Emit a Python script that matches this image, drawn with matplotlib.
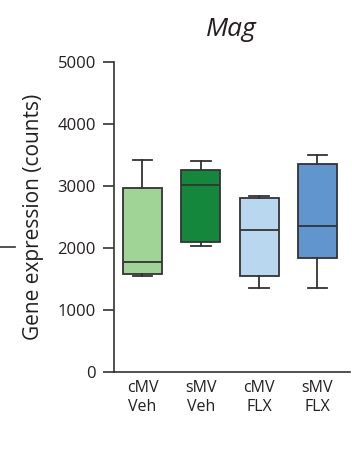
import matplotlib.pyplot as plt
from matplotlib.lines import Line2D

plt.rcParams['font.family'] = ['Open Sans', 'DejaVu Sans']

# groups and box statistics
groepen = ['cMV\nVeh', 'sMV\nVeh', 'cMV\nFLX', 'sMV\nFLX']
whis_laag = [1550, 2035, 1365, 1350]
q1 = [1590, 2100, 1550, 1835]
mediaan = [1780, 3010, 2300, 2355]
q3 = [2970, 3265, 2810, 3355]
whis_hoog = [3420, 3410, 2845, 3495]
kleuren = ['#a0d396', '#15873d', '#b9d7ee', '#6195ce']

rand = '#333333'
tekst = '#231f20'

fig = plt.figure(figsize=(3.52, 4.5), dpi=100)
ax = fig.add_axes([0.324, 0.173, 0.67, 0.689])

stats = []
for i in range(len(groepen)):
    stats.append({'whislo': whis_laag[i], 'q1': q1[i], 'med': mediaan[i],
                  'q3': q3[i], 'whishi': whis_hoog[i], 'fliers': []})

posities = list(range(1, len(groepen) + 1))
bp = ax.bxp(stats, positions=posities, widths=0.67, patch_artist=True,
            showfliers=False,
            boxprops=dict(edgecolor=rand, linewidth=1.3),
            medianprops=dict(color=rand, linewidth=1.3),
            whiskerprops=dict(color=rand, linewidth=1.3),
            capprops=dict(color=rand, linewidth=1.3),
            capwidths=0.34)
for patch, kleur in zip(bp['boxes'], kleuren):
    patch.set_facecolor(kleur)

ax.set_xlim(0.513, 4.556)
ax.set_ylim(0, 5000)
ax.set_yticks([0, 1000, 2000, 3000, 4000, 5000])
ax.set_xticks(posities)
ax.set_xticklabels(groepen, fontsize=11.5, color=tekst, linespacing=1.25)

for s in ['top', 'right']:
    ax.spines[s].set_visible(False)
for s in ['left', 'bottom']:
    ax.spines[s].set_color(rand)
    ax.spines[s].set_linewidth(1.2)

ax.tick_params(axis='y', length=8, width=1.2, color=rand, pad=5,
               labelsize=12, labelcolor=tekst)
ax.tick_params(axis='x', length=0, pad=6)

ax.set_ylabel('Gene expression (counts)', fontsize=15, color=tekst,
              labelpad=10)

fig.text(231 / 352, 1 - 30 / 450, 'Mag', fontsize=19, style='italic',
         ha='center', va='center', color=tekst)

# stukje lijn van het naastliggende paneel
fig.add_artist(Line2D([0, 15 / 352], [1 - 247 / 450, 1 - 247 / 450],
                      color=rand, linewidth=1.2))

fig.savefig('out.png', dpi=100)
